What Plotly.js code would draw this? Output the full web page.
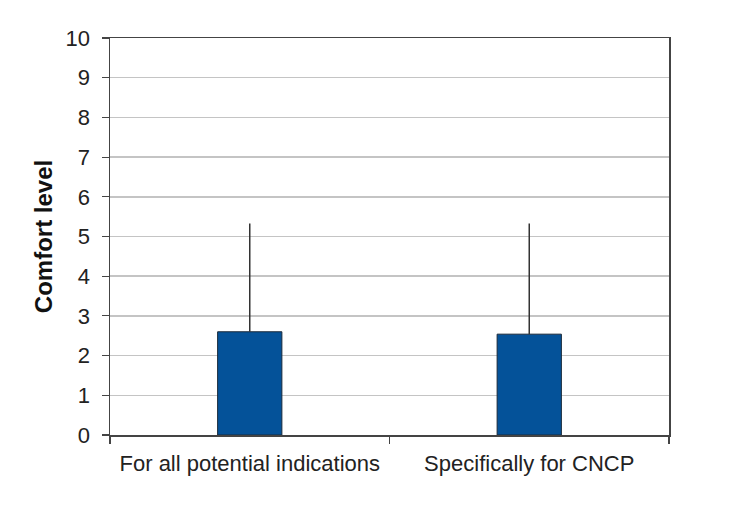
<!DOCTYPE html>
<html>
<head>
<meta charset="utf-8">
<script src="https://cdn.plot.ly/plotly-3.0.1.min.js"></script>
<style>html,body{margin:0;padding:0;background:#fff;}#chart{width:730px;height:516px;}</style>
</head>
<body>
<div id="chart"></div>
<script>
const categories = ["For all potential indications", "Specifically for CNCP"];
const meanValues = [2.60, 2.54];
const errorPlus = [2.73, 2.79];
const yTickValues = [0,1,2,3,4,5,6,7,8,9,10];

const trace = {
  type: "bar",
  x: categories,
  y: meanValues,
  width: 0.23,
  marker: { color: "#045299", line: { color: "#1a2a3a", width: 1 } },
  error_y: { type: "data", array: errorPlus, symmetric: false, arrayminus: [0,0], visible: true, color: "#333333", thickness: 1.5, width: 0 },
  hoverinfo: "none"
};

const layout = {
  width: 730, height: 516,
  margin: { l: 110, r: 61, t: 38, b: 81 },
  paper_bgcolor: "#ffffff",
  plot_bgcolor: "#ffffff",
  showlegend: false,
  font: { family: "Liberation Sans, Arial, sans-serif", color: "#222222", size: 20 },
  xaxis: {
    type: "category",
    tickson: "boundaries",
    ticks: "outside", ticklen: 7, tickcolor: "#444444", tickwidth: 1.2,
    showline: true, linecolor: "#444444", linewidth: 1.5, mirror: true,
    showgrid: false, zeroline: false,
    tickfont: { size: 22, color: "#222222" },
    ticklabelstandoff: 8
  },
  yaxis: {
    range: [0, 10], tickvals: yTickValues,
    ticks: "outside", ticklen: 7, tickcolor: "#444444", tickwidth: 1.2,
    showline: true, linecolor: "#444444", linewidth: 1.5, mirror: true,
    showgrid: true, gridcolor: "#c4c4c4", gridwidth: 1.5, zeroline: false,
    tickfont: { size: 22, color: "#222222" },
    ticklabelstandoff: 7,
    title: { text: "<b>Comfort level</b>", font: { size: 24, color: "#111111" }, standoff: 6 }
  }
};

Plotly.newPlot("chart", [trace], layout, { staticPlot: true, displayModeBar: false });
</script>
</body>
</html>
